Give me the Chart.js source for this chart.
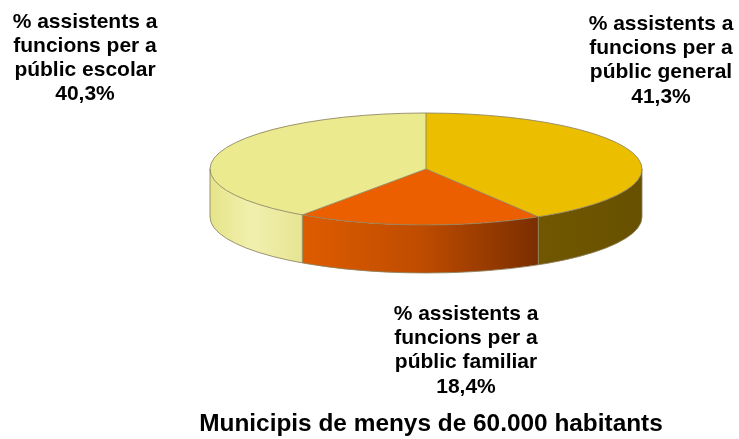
<!DOCTYPE html>
<html>
<head>
<meta charset="utf-8">
<script src="https://cdn.jsdelivr.net/npm/chart.js@4/dist/chart.umd.min.js"></script>
<style>
  html, body { margin: 0; padding: 0; background: #fff; overflow: hidden; }
  canvas { display: block; }
</style>
</head>
<body>
<canvas id="chart" width="739" height="439"></canvas>
<script>
// Audience share by type of performance
const categories = ['Públic general', 'Públic familiar', 'Públic escolar'];
const shares = [41.3, 18.4, 40.3];
const labelLines = [
  ['% assistents a', 'funcions per a', 'públic general'],
  ['% assistents a', 'funcions per a', 'públic familiar'],
  ['% assistents a', 'funcions per a', 'públic escolar']
];
const chartTitle = 'Municipis de menys de 60.000 habitants';

// Colours of the top faces and of the side walls
const topColors = ['#ECBE00', '#EB5F00', '#EBEA8E'];
const wallStops = [
  [[0, '#715700'], [1, '#675000']],
  [[0, '#DE5C00'], [0.5, '#BF4C00'], [1, '#7A2E00']],
  [[0, '#E5E489'], [0.45, '#F1F0AE'], [1, '#E6E593']]
];

// 3D look: vertical squash of the disc, height of the wall, centre of the top face
const TILT = 56 / 216;
const DEPTH = 48;
const TOP_CY = 169;
const EDGE = 'rgba(140,130,95,0.85)';

const fmt = v => v.toFixed(1).replace('.', ',') + '%';

const pie3d = {
  id: 'pie3d',
  beforeDatasetsDraw(chart) {
    const ctx = chart.ctx;
    const arcs = chart.getDatasetMeta(0).data;
    const cx = arcs[0].x, cy = arcs[0].y, r = arcs[0].outerRadius;
    const ry = r * TILT;
    // side walls of the front half
    arcs.forEach((arc, i) => {
      const s = Math.max(arc.startAngle, 0);
      const e = Math.min(arc.endAngle, Math.PI);
      if (e <= s) return;
      const xa = cx + r * Math.cos(e), xb = cx + r * Math.cos(s);
      const g = ctx.createLinearGradient(Math.min(xa, xb), 0, Math.max(xa, xb), 0);
      wallStops[i].forEach(([o, c]) => g.addColorStop(o, c));
      ctx.beginPath();
      ctx.ellipse(cx, TOP_CY, r, ry, 0, s, e, false);
      ctx.ellipse(cx, TOP_CY + DEPTH, r, ry, 0, e, s, true);
      ctx.closePath();
      ctx.fillStyle = g;
      ctx.fill();
    });
    // squash the slices the library draws into the tilted top face
    ctx.save();
    ctx.translate(0, TOP_CY);
    ctx.scale(1, TILT);
    ctx.translate(0, -cy);
  },
  afterDatasetsDraw(chart) {
    const ctx = chart.ctx;
    ctx.restore();
    const arcs = chart.getDatasetMeta(0).data;
    const cx = arcs[0].x, r = arcs[0].outerRadius;
    const ry = r * TILT;
    ctx.save();
    ctx.strokeStyle = EDGE;
    ctx.lineWidth = 1;
    // rim of the top face
    ctx.beginPath();
    ctx.ellipse(cx, TOP_CY, r, ry, 0, 0, Math.PI * 2);
    ctx.stroke();
    // bottom rim
    ctx.beginPath();
    ctx.ellipse(cx, TOP_CY + DEPTH, r, ry, 0, 0, Math.PI);
    ctx.stroke();
    // radial slice borders and vertical wall edges
    const verticals = [0, Math.PI];
    arcs.forEach(arc => {
      const a = arc.startAngle;
      const x = cx + r * Math.cos(a), y = TOP_CY + ry * Math.sin(a);
      ctx.beginPath();
      ctx.moveTo(cx, TOP_CY);
      ctx.lineTo(x, y);
      ctx.stroke();
      const n = ((a % (2 * Math.PI)) + 2 * Math.PI) % (2 * Math.PI);
      if (n > 0 && n < Math.PI) verticals.push(n);
    });
    verticals.forEach(a => {
      const x = cx + r * Math.cos(a), y = TOP_CY + ry * Math.sin(a);
      ctx.beginPath();
      ctx.moveTo(x, y);
      ctx.lineTo(x, y + DEPTH);
      ctx.stroke();
    });
    ctx.restore();
  },
  afterDraw(chart, args, opts) {
    const ctx = chart.ctx;
    ctx.save();
    ctx.fillStyle = '#000';
    ctx.textAlign = 'center';
    ctx.textBaseline = 'alphabetic';
    ctx.font = 'bold 21px "Liberation Sans", Arial, sans-serif';
    opts.labels.forEach((p, i) => {
      const lines = labelLines[i].concat([fmt(shares[i])]);
      lines.forEach((t, k) => ctx.fillText(t, p.x, p.y + k * opts.lineHeight));
    });
    ctx.font = 'bold 24.4px "Liberation Sans", Arial, sans-serif';
    ctx.fillText(chartTitle, opts.title.x, opts.title.y);
    ctx.restore();
  }
};

new Chart(document.getElementById('chart'), {
  type: 'pie',
  data: {
    labels: categories,
    datasets: [{
      data: shares,
      backgroundColor: topColors,
      borderWidth: 0,
      hoverBorderWidth: 0,
      hoverOffset: 0
    }]
  },
  options: {
    responsive: false,
    devicePixelRatio: 1,
    animation: false,
    events: [],
    rotation: 0,
    layout: { padding: { left: 210, right: 97, top: 0, bottom: 7 } },
    plugins: {
      legend: { display: false },
      tooltip: { enabled: false },
      pie3d: {
        lineHeight: 24.2,
        labels: [
          { x: 661, y: 30 },
          { x: 466, y: 320 },
          { x: 85, y: 27.5 }
        ],
        title: { x: 431, y: 431 }
      }
    }
  },
  plugins: [pie3d]
});
</script>
</body>
</html>
